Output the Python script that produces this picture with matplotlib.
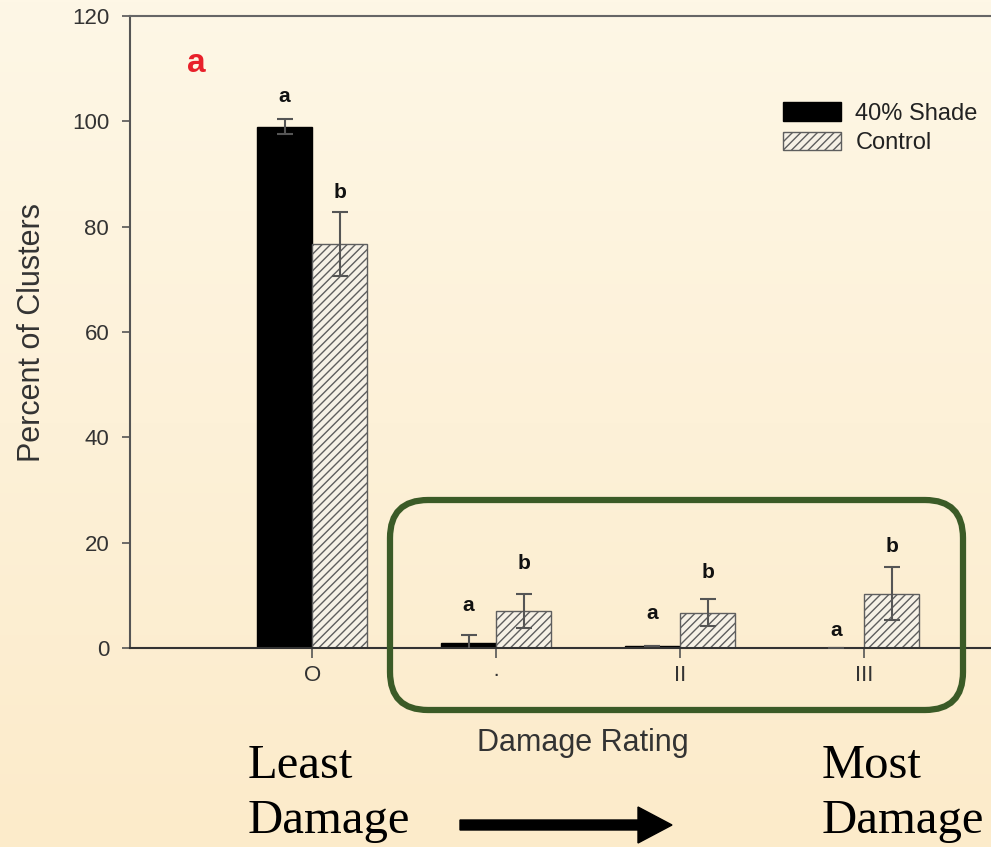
import numpy as np
import matplotlib
matplotlib.use('Agg')
import matplotlib.pyplot as plt
from matplotlib.patches import FancyBboxPatch, FancyArrow
from matplotlib.transforms import IdentityTransform

plt.rcParams['font.family'] = ['Liberation Sans', 'DejaVu Sans']
plt.rcParams['hatch.linewidth'] = 1.0

# data
categories = ['O', '·', 'II', 'III']
shade = [99.0, 1.0, 0.4, 0.0]
shade_err = [1.4, 1.5, 0.0, 0.0]
control = [76.7, 7.0, 6.7, 10.3]
control_err = [6.0, 3.2, 2.6, 5.0]
shade_letters = ['a', 'a', 'a', 'a']
control_letters = ['b', 'b', 'b', 'b']
shade_letter_y = [104.8, 8.0, 6.6, 3.4]
control_letter_y = [86.4, 16.1, 14.4, 19.2]

W, H = 991, 847
fig = plt.figure(figsize=(W / 100, H / 100), dpi=100)

# cream gradient background
bg = fig.add_axes([0, 0, 1, 1], zorder=-10)
top = np.array([254, 247, 230]) / 255
bot = np.array([252, 235, 202]) / 255
t = np.linspace(0, 1, 256)[:, None, None]
grad = top * (1 - t) + bot * t
bg.imshow(grad, aspect='auto', extent=[0, 1, 0, 1])
bg.axis('off')

ax = fig.add_axes([130 / W, 1 - 648 / H, 1 - 130 / W, (648 - 16) / H])
ax.set_facecolor('none')

x = np.arange(len(categories))
bw = 0.3
ax.bar(x - bw / 2, shade, bw, color='black', edgecolor='black', label='40% Shade', zorder=2)
ax.bar(x + bw / 2, control, bw, color='#f6f1e6', edgecolor='#5e5e5e', hatch='////',
       linewidth=1.0, label='Control', zorder=2)
ax.errorbar(x - bw / 2, shade, yerr=shade_err, fmt='none', ecolor='#555555',
            elinewidth=1.5, capsize=6, capthick=1.5, zorder=3)
ax.errorbar(x + bw / 2, control, yerr=control_err, fmt='none', ecolor='#555555',
            elinewidth=1.5, capsize=6, capthick=1.5, zorder=3)

for i in range(len(categories)):
    ax.text(x[i] - bw / 2, shade_letter_y[i], shade_letters[i], ha='center', va='center',
            fontsize=15, fontweight='bold', color='#111111')
    ax.text(x[i] + bw / 2, control_letter_y[i], control_letters[i], ha='center', va='center',
            fontsize=15, fontweight='bold', color='#111111')

ax.set_xlim(-0.99, 3.69)
ax.set_ylim(0, 120)
ax.set_yticks(np.arange(0, 121, 20))
ax.set_xticks(x)
ax.set_xticklabels(categories)
ax.tick_params(axis='y', length=6, width=1.2, pad=9, labelsize=16, colors='#555555',
               labelcolor='#333333')
ax.tick_params(axis='x', length=7, width=1.2, pad=5, labelsize=16, colors='#555555',
               labelcolor='#333333')

ax.spines['right'].set_visible(False)
ax.spines['left'].set_color('#555555')
ax.spines['top'].set_color('#666666')
ax.spines['bottom'].set_color('#333333')
for s in ['left', 'top', 'bottom']:
    ax.spines[s].set_linewidth(1.5)

ax.set_ylabel('Percent of Clusters', fontsize=22, color='#333333')
ax.yaxis.set_label_coords(-0.096, 0.5)
ax.set_xlabel('Damage Rating', fontsize=22, color='#333333')
ax.xaxis.set_label_coords(0.526, -0.127)

ax.text(0.077, 0.925, 'a', transform=ax.transAxes, color='#e8202a', fontsize=24,
        fontweight='bold', ha='center', va='center')

ax.legend(loc='upper left', bbox_to_anchor=(0.748, 0.879), frameon=False, fontsize=17,
          handlelength=2.45, handleheight=0.85, handletextpad=0.6, labelspacing=0.3,
          borderaxespad=0, labelcolor='#222222')

# green rounded box
box = FancyBboxPatch((390, H - 710), 963 - 390, 710 - 500,
                     boxstyle='round,pad=0,rounding_size=38', transform=IdentityTransform(),
                     facecolor='none', edgecolor='#3b5b27', linewidth=4.5, zorder=5)
fig.add_artist(box)

# arrow
arr = FancyArrow(460, H - 825, 212, 0, width=10, head_width=36, head_length=34,
                 length_includes_head=True, transform=IdentityTransform(), color='black')
fig.add_artist(arr)

serif = ['Liberation Serif', 'DejaVu Serif']
fig.text(248 / W, 1 - 778 / H, 'Least', family=serif, fontsize=35, ha='left', va='baseline')
fig.text(248 / W, 1 - 833 / H, 'Damage', family=serif, fontsize=35, ha='left', va='baseline')
fig.text(822 / W, 1 - 778 / H, 'Most', family=serif, fontsize=35, ha='left', va='baseline')
fig.text(822 / W, 1 - 833 / H, 'Damage', family=serif, fontsize=35, ha='left', va='baseline')

fig.savefig('out.png', dpi=100)
